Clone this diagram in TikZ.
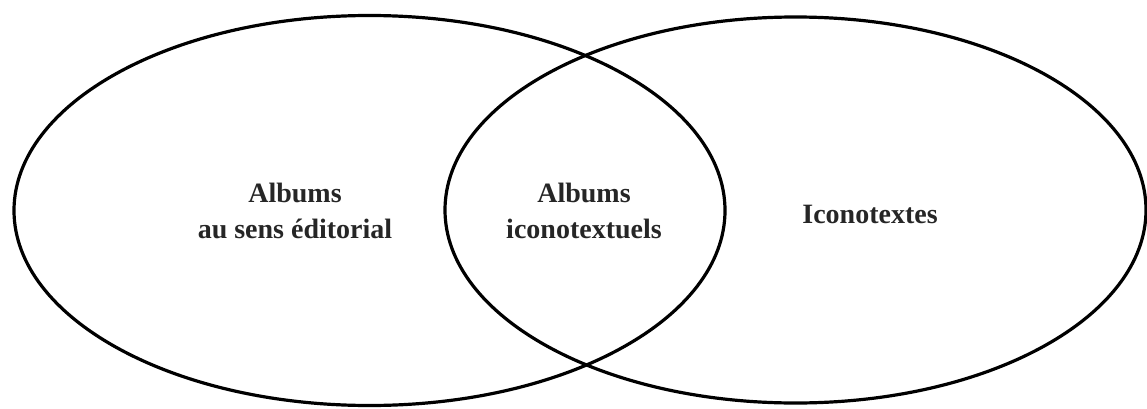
\documentclass[tikz,border=0pt]{standalone}
\usepackage{fontspec}
\setmainfont{Liberation Serif}
\begin{document}
\begin{tikzpicture}[x=1pt,y=1pt,
  set/.style={draw=black, line width=3.2pt},
  lbl/.style={font=\fontsize{28}{36}\selectfont\bfseries, align=center, text=black!85}]
\useasboundingbox (0,0) rectangle (1147,408);
\draw[set] (369.5,197.5) ellipse [x radius=355.5, y radius=195];
\draw[set] (795.5,198) ellipse [x radius=350.5, y radius=193];
\node[lbl] (left) at (295,197) {Albums\\au sens éditorial};
\node[lbl] (mid) at (584,197) {Albums\\iconotextuels};
\node[lbl] (right) at (870,194) {Iconotextes};
\end{tikzpicture}
\end{document}
